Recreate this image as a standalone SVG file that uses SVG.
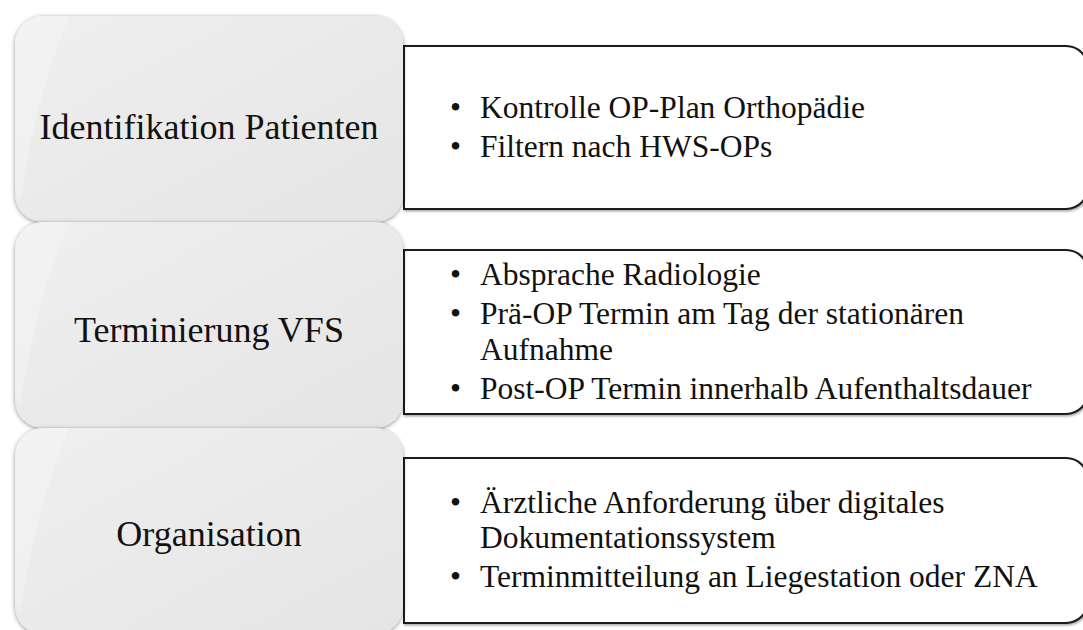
<svg xmlns="http://www.w3.org/2000/svg" width="1083" height="630" viewBox="0 0 1083 630">
  <defs>
    <linearGradient id="gFill" x1="0" y1="0" x2="1" y2="1">
      <stop offset="0" stop-color="#efefef"/>
      <stop offset="1" stop-color="#e5e5e5"/>
    </linearGradient>
    <filter id="shL" x="-10%" y="-10%" width="120%" height="120%">
      <feDropShadow dx="0" dy="1" stdDeviation="2.2" flood-color="#000" flood-opacity="0.45"/>
    </filter>
    <filter id="shR" x="-5%" y="-10%" width="110%" height="120%">
      <feDropShadow dx="1" dy="1.5" stdDeviation="0.8" flood-color="#000" flood-opacity="0.35"/>
    </filter>
    <style>
      .lbox { fill: url(#gFill); filter: url(#shL); }
      .gloss { fill: #ffffff; opacity: 0.25; }
      .rbox { fill: #ffffff; stroke: #1a1a1a; stroke-width: 2; filter: url(#shR); }
      .ltxt { font-family: "Liberation Serif", "Times New Roman", serif; font-size: 36px; fill: #111; text-anchor: middle; }
      .rtxt { font-family: "Liberation Serif", "Times New Roman", serif; font-size: 31.5px; fill: #111; }
    </style>
  </defs>

  <g id="connectors"></g>

  <g id="detail1">
    <path class="rbox" d="M404,46 H1066 A22,22 0 0 1 1088,68 V187 A22,22 0 0 1 1066,209 H404 Z"/>
    <text class="rtxt" x="450" y="118">•</text>
    <text class="rtxt" x="480" y="118">Kontrolle OP-Plan Orthopädie</text>
    <text class="rtxt" x="450" y="157">•</text>
    <text class="rtxt" x="480" y="157">Filtern nach HWS-OPs</text>
  </g>

  <g id="detail2">
    <path class="rbox" d="M404,250 H1066 A22,22 0 0 1 1088,272 V392 A22,22 0 0 1 1066,414 H404 Z"/>
    <text class="rtxt" x="450" y="285">•</text>
    <text class="rtxt" x="480" y="285">Absprache Radiologie</text>
    <text class="rtxt" x="450" y="324">•</text>
    <text class="rtxt" x="480" y="324">Prä-OP Termin am Tag der stationären</text>
    <text class="rtxt" x="480" y="360">Aufnahme</text>
    <text class="rtxt" x="450" y="399">•</text>
    <text class="rtxt" x="480" y="399">Post-OP Termin innerhalb Aufenthaltsdauer</text>
  </g>

  <g id="detail3">
    <path class="rbox" d="M404,458 H1066 A22,22 0 0 1 1088,480 V601 A22,22 0 0 1 1066,623 H404 Z"/>
    <text class="rtxt" x="450" y="513">•</text>
    <text class="rtxt" x="480" y="513">Ärztliche Anforderung über digitales</text>
    <text class="rtxt" x="480" y="548">Dokumentationssystem</text>
    <text class="rtxt" x="450" y="587">•</text>
    <text class="rtxt" x="480" y="587">Terminmitteilung an Liegestation oder ZNA</text>
  </g>

  <g id="step1">
    <rect class="lbox" x="15" y="16" width="388" height="206" rx="28" ry="28"/>
    <path class="gloss" d="M43,16 H70 Q40,80 20,200 L15,190 V44 A28,28 0 0 1 43,16 Z"/>
    <text class="ltxt" x="209" y="139">Identifikation Patienten</text>
  </g>

  <g id="step2">
    <rect class="lbox" x="15" y="222" width="388" height="206" rx="28" ry="28"/>
    <path class="gloss" d="M43,222 H70 Q40,286 20,406 L15,396 V250 A28,28 0 0 1 43,222 Z"/>
    <text class="ltxt" x="209" y="342">Terminierung VFS</text>
  </g>

  <g id="step3">
    <rect class="lbox" x="15" y="428" width="388" height="206" rx="28" ry="28"/>
    <path class="gloss" d="M43,428 H70 Q40,492 20,612 L15,602 V456 A28,28 0 0 1 43,428 Z"/>
    <text class="ltxt" x="209" y="546">Organisation</text>
  </g>
</svg>
